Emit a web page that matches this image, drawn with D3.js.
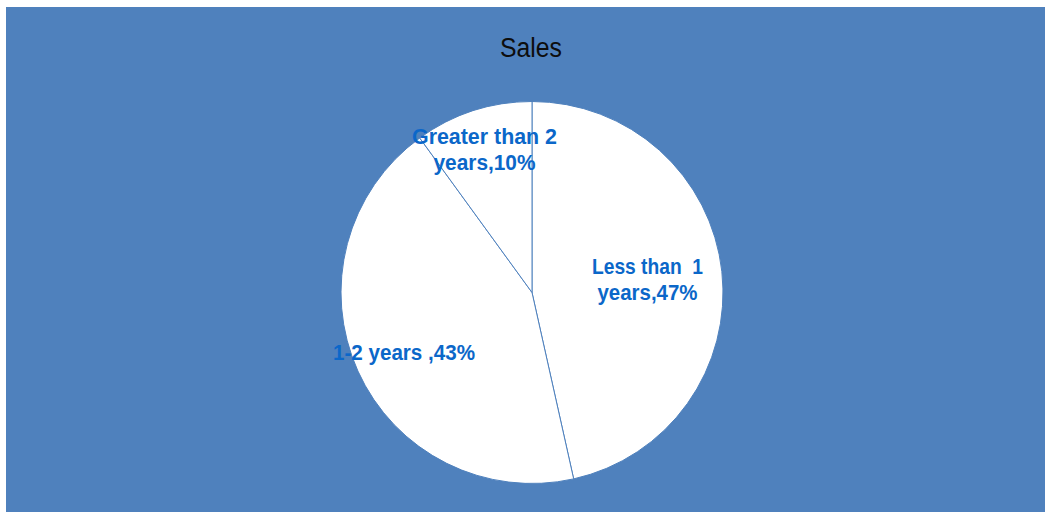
<!DOCTYPE html>
<html>
<head>
<meta charset="utf-8">
<script src="https://cdn.jsdelivr.net/npm/d3@7"></script>
<style>
  html, body { margin: 0; padding: 0; background: #ffffff; }
</style>
</head>
<body>
<div id="chart"></div>
<script>
// data
var categories = ["Less than  1 years", "1-2 years", "Greater than 2 years"];
var shares = [46.5, 43.5, 10];
var labelLines = [
    ["Less than  1", "years,47%"],
    ["1-2 years ,43%"],
    ["Greater than 2", "years,10%"]
];
var chartTitle = "Sales";

var width = 1050;
var height = 512;
var cx = 532;
var cy = 292.5;
var radius = 191;

var svg = d3.select("#chart")
    .append("svg")
    .attr("width", width)
    .attr("height", height);

//背景
svg.append("rect")
    .attr("x", 6)
    .attr("y", 7)
    .attr("width", 1039)
    .attr("height", 505)
    .attr("fill", "#4f81bd");

svg.append("text")
    .attr("x", 531)
    .attr("y", 57)
    .attr("text-anchor", "middle")
    .attr("font-family", "'Liberation Sans', sans-serif")
    .attr("font-size", 27)
    .attr("textLength", 62)
    .attr("lengthAdjust", "spacingAndGlyphs")
    .attr("fill", "#0d0d0d")
    .text(chartTitle);

var pie = d3.pie()
    .sort(null)
    .value(function(d) { return d; });
var arcs = pie(shares);

var arc = d3.arc()
    .innerRadius(0)
    .outerRadius(radius);

var gPie = svg.append("g")
    .attr("transform", "translate(" + cx + "," + cy + ")");

gPie.selectAll("path")
    .data(arcs)
    .enter()
    .append("path")
    .attr("d", arc)
    .attr("fill", "#ffffff")
    .attr("stroke", "#4f81bd")
    .attr("stroke-width", 1)
    .attr("stroke-linejoin", "round");

// label anchor (centre x, first baseline) and line widths
var labelPos = [[647.5, 274], [404, 360], [484.5, 144]];
var labelWidths = [[111, 100], [142], [145, 102]];
var lineGap = 26;

var gLabel = svg.append("g");
gLabel.selectAll("text")
    .data(arcs)
    .enter()
    .append("text")
    .attr("text-anchor", "middle")
    .attr("font-family", "'Liberation Sans', sans-serif")
    .attr("font-weight", "bold")
    .attr("font-size", 22)
    .attr("fill", "#0b67c9")
    .each(function(d, i) {
        var t = d3.select(this);
        labelLines[i].forEach(function(s, k) {
            t.append("tspan")
                .attr("x", labelPos[i][0])
                .attr("y", labelPos[i][1] + k * lineGap)
                .attr("textLength", labelWidths[i][k])
                .attr("lengthAdjust", "spacingAndGlyphs")
                .attr("xml:space", "preserve")
                .text(s);
        });
    });
</script>
</body>
</html>
